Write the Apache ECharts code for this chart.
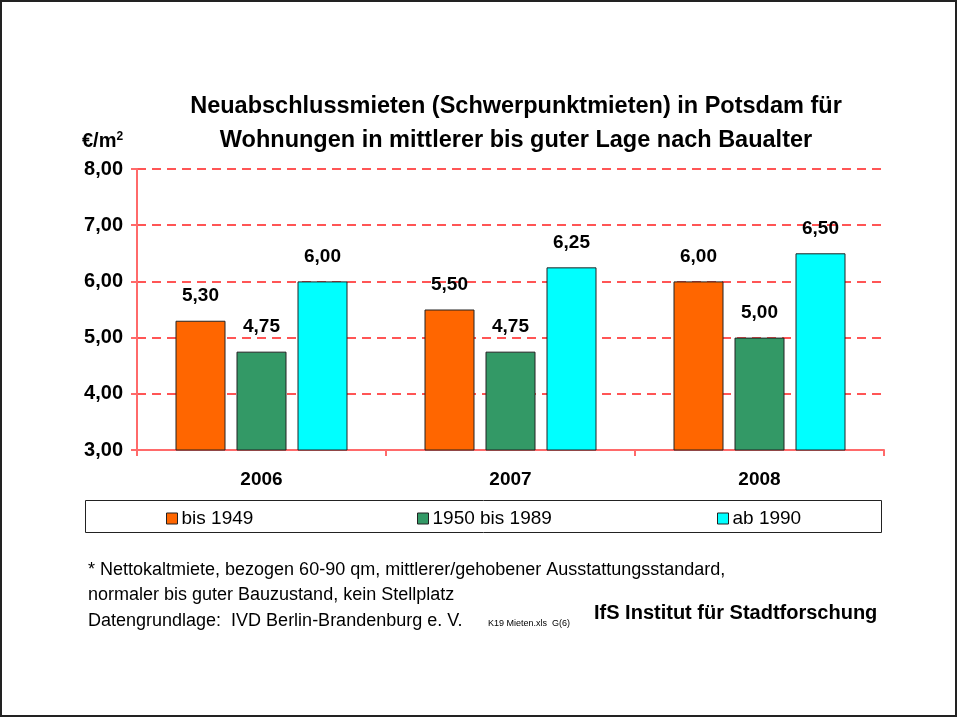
<!DOCTYPE html>
<html>
<head>
<meta charset="utf-8">
<style>
  html, body { margin: 0; padding: 0; background: #fff; }
  #main { width: 957px; height: 718px; }
</style>
<script src="https://cdn.jsdelivr.net/npm/echarts@6/dist/echarts.min.js"></script>
</head>
<body>
<div id="main"></div>
<script>
const years = ['2006', '2007', '2008'];
const bis1949 = [5.30, 5.50, 6.00];
const bis1989 = [4.75, 4.75, 5.00];
const ab1990 = [6.00, 6.25, 6.50];
const seriesNames = ['bis 1949', '1950 bis 1989', 'ab 1990'];
const colors = ['#ff6600', '#339966', '#00ffff'];

const chart = echarts.init(document.getElementById('main'));

function fmt(v) {
  return v.toFixed(2).replace('.', ',');
}

function makeBar(name, data, color) {
  return {
    name: name,
    type: 'bar',
    data: data,
    barWidth: 50,
    barGap: '22%',
    itemStyle: { color: color, borderColor: '#222', borderWidth: 1 },
    label: {
      show: true,
      position: 'top',
      distance: 15,
      fontFamily: 'Liberation Sans',
      fontWeight: 'bold',
      fontSize: 19,
      color: '#000',
      formatter: p => fmt(p.value)
    }
  };
}

const legendLeft = [161, 412, 712];
const axisRed = '#ff6a6a';

chart.setOption({
  animation: false,
  textStyle: { fontFamily: 'Liberation Sans' },
  title: {
    text: 'Neuabschlussmieten (Schwerpunktmieten) in Potsdam für\nWohnungen in mittlerer bis guter Lage nach Baualter',
    left: 511,
    textAlign: 'center',
    top: 85,
    textStyle: {
      fontFamily: 'Liberation Sans',
      fontWeight: 'bold',
      fontSize: 23.5,
      lineHeight: 34,
      color: '#000'
    }
  },
  legend: seriesNames.map((n, i) => ({
    data: [n],
    left: legendLeft[i],
    top: 504,
    itemWidth: 11,
    itemHeight: 11,
    itemGap: 6,
    icon: 'rect',
    itemStyle: { borderColor: '#222', borderWidth: 1 },
    textStyle: { fontFamily: 'Liberation Sans', fontSize: 19, color: '#000', padding: [0, 0, 0, -1] },
    selectedMode: false
  })),
  grid: { left: 137, right: 73, top: 169, bottom: 268 },
  xAxis: {
    type: 'category',
    data: years,
    axisLine: { lineStyle: { color: axisRed, width: 2 } },
    axisTick: { show: true, alignWithLabel: false, length: 6, lineStyle: { color: axisRed, width: 2 } },
    axisLabel: {
      margin: 20,
      fontFamily: 'Liberation Sans',
      fontWeight: 'bold',
      fontSize: 19,
      color: '#000'
    }
  },
  yAxis: {
    type: 'value',
    min: 3,
    max: 8,
    interval: 1,
    axisLine: { show: true, lineStyle: { color: axisRed, width: 2 } },
    axisTick: { show: true, length: 6, lineStyle: { color: axisRed, width: 2 } },
    splitLine: { show: true, lineStyle: { color: '#ff5555', type: [9, 6], width: 2 } },
    axisLabel: {
      margin: 14,
      fontFamily: 'Liberation Sans',
      fontWeight: 'bold',
      fontSize: 20,
      color: '#000',
      formatter: v => fmt(v)
    }
  },
  series: [
    makeBar(seriesNames[0], bis1949, colors[0]),
    makeBar(seriesNames[1], bis1989, colors[1]),
    makeBar(seriesNames[2], ab1990, colors[2])
  ],
  graphic: [
    {
      type: 'rect',
      shape: { x: 1, y: 1, width: 955, height: 715 },
      style: { fill: 'none', stroke: '#222', lineWidth: 2 },
      silent: true
    },
    {
      type: 'rect',
      shape: { x: 85.5, y: 500.5, width: 796, height: 32 },
      style: { fill: 'none', stroke: '#222', lineWidth: 1 },
      silent: true,
      z: -1
    },
    {
      type: 'text',
      left: 82,
      top: 131,
      style: {
        text: '{b|€/m}{s|2}',
        rich: {
          b: { fontFamily: 'Liberation Sans', fontWeight: 'bold', fontSize: 20, fill: '#000' },
          s: { fontFamily: 'Liberation Sans', fontWeight: 'bold', fontSize: 12, fill: '#000', verticalAlign: 'top', padding: [0, 0, 9, 0] }
        }
      }
    },
    {
      type: 'text',
      left: 88,
      top: 557,
      style: {
        text: '* Nettokaltmiete, bezogen 60-90 qm, mittlerer/gehobener Ausstattungsstandard,\nnormaler bis guter Bauzustand, kein Stellplatz\nDatengrundlage:  IVD Berlin-Brandenburg e. V.',
        fontFamily: 'Liberation Sans',
        fontSize: 18,
        lineHeight: 25.5,
        fill: '#000'
      }
    },
    {
      type: 'text',
      left: 488,
      top: 619,
      style: { text: 'K19 Mieten.xls  G(6)', fontFamily: 'Liberation Sans', fontSize: 9, fill: '#000' }
    },
    {
      type: 'text',
      left: 594,
      top: 603,
      style: { text: 'IfS Institut für Stadtforschung', fontFamily: 'Liberation Sans', fontWeight: 'bold', fontSize: 20, fill: '#000' }
    }
  ]
});
</script>
</body>
</html>
